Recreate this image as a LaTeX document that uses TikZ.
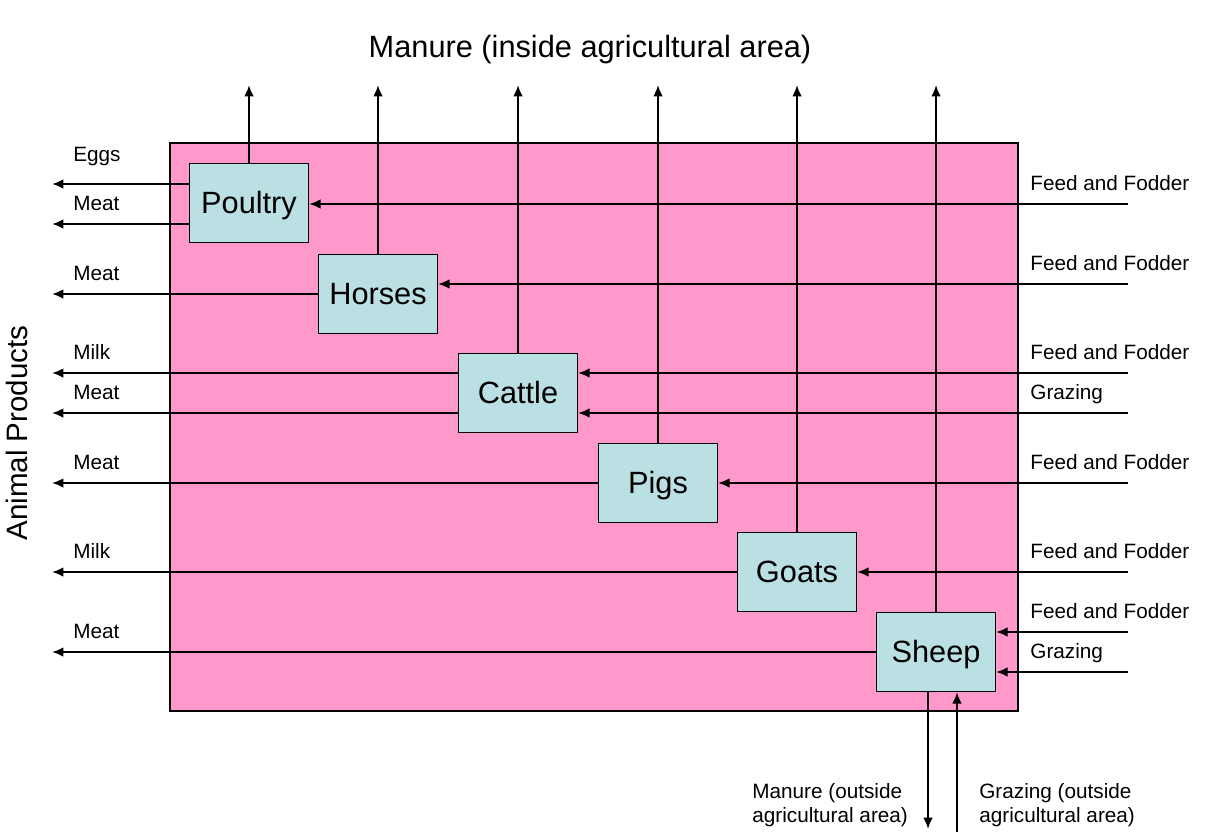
\documentclass[tikz,border=0pt]{standalone}
\usepackage{fontspec}
\setmainfont{Liberation Sans}
\usetikzlibrary{arrows.meta}
\definecolor{pinkbg}{HTML}{FF99CC}
\definecolor{boxfill}{HTML}{BBE0E3}
\begin{document}
\begin{tikzpicture}[x=0.02cm,y=-0.02cm,
  flow/.style={line width=1.15pt,-{Latex[length=6.5pt,width=5.5pt]}},
  animal/.style={draw=black,line width=0.7pt,fill=boxfill,minimum width=2.38cm,minimum height=1.58cm,inner sep=0pt,text height=12.5pt,text depth=0pt,font=\fontsize{17.5}{20}\selectfont},
  small/.style={inner sep=0pt,font=\fontsize{11.8}{14}\selectfont},
  big/.style={inner sep=0pt,font=\fontsize{17.5}{20}\selectfont}]
\useasboundingbox (0,0) rectangle (1212,832);
\fill[white] (0,0) rectangle (1212,832);
\draw[fill=pinkbg,line width=0.7pt] (170,143) rectangle (1018,711);

% animal boxes
\node[animal] (poultry) at (249,203) {Poultry};
\node[animal] (horses) at (378,294) {Horses};
\node[animal] (cattle) at (518,393) {Cattle};
\node[animal] (pigs) at (658,483) {Pigs};
\node[animal] (goats) at (797,572) {Goats};
\node[animal] (sheep) at (936,652) {Sheep};

% manure up
\coordinate (mP) at (249,85);
\coordinate (mH) at (378,85);
\coordinate (mC) at (518,85);
\coordinate (mPi) at (658,85);
\coordinate (mG) at (797,85);
\coordinate (mS) at (936,85);
\draw[flow] (poultry.north) -- (mP);
\draw[flow] (horses.north) -- (mH);
\draw[flow] (cattle.north) -- (mC);
\draw[flow] (pigs.north) -- (mPi);
\draw[flow] (goats.north) -- (mG);
\draw[flow] (sheep.north) -- (mS);

% products out (left)
\coordinate (oPe) at (52,184);
\coordinate (oPm) at (52,224);
\coordinate (oH) at (52,294);
\coordinate (oCm) at (52,373);
\coordinate (oCt) at (52,413);
\coordinate (oPi) at (52,483);
\coordinate (oG) at (52,572);
\coordinate (oS) at (52,652);
\draw[flow] (poultry.west |- oPe) -- (oPe);
\draw[flow] (poultry.west |- oPm) -- (oPm);
\draw[flow] (horses.west |- oH) -- (oH);
\draw[flow] (cattle.west |- oCm) -- (oCm);
\draw[flow] (cattle.west |- oCt) -- (oCt);
\draw[flow] (pigs.west |- oPi) -- (oPi);
\draw[flow] (goats.west |- oG) -- (oG);
\draw[flow] (sheep.west |- oS) -- (oS);

% inputs (right)
\coordinate (iP) at (1128,204);
\coordinate (iH) at (1128,284);
\coordinate (iCf) at (1128,373);
\coordinate (iCg) at (1128,413);
\coordinate (iPi) at (1128,483);
\coordinate (iG) at (1128,572);
\coordinate (iSf) at (1128,632);
\coordinate (iSg) at (1128,672);
\draw[flow] (iP) -- (poultry.east |- iP);
\draw[flow] (iH) -- (horses.east |- iH);
\draw[flow] (iCf) -- (cattle.east |- iCf);
\draw[flow] (iCg) -- (cattle.east |- iCg);
\draw[flow] (iPi) -- (pigs.east |- iPi);
\draw[flow] (iG) -- (goats.east |- iG);
\draw[flow] (iSf) -- (sheep.east |- iSf);
\draw[flow] (iSg) -- (sheep.east |- iSg);

% outside area
\coordinate (outM) at (928,829);
\coordinate (outG) at (957,832);
\draw[flow] (sheep.south -| outM) -- (outM);
\draw[flow] (outG) -- (sheep.south -| outG);

% labels
\node[big,anchor=base] (title) at (590,57) {Manure (inside agricultural area)};
\node[big,rotate=90,font=\fontsize{16.8}{20}\selectfont] (ap) at (17,433) {Animal Products};

\node[small,anchor=base west] (lEggs) at (73,161) {Eggs};
\node[small,anchor=base west] (lPm) at (73,210) {Meat};
\node[small,anchor=base west] (lHm) at (73,280) {Meat};
\node[small,anchor=base west] (lCmilk) at (73,359) {Milk};
\node[small,anchor=base west] (lCmeat) at (73,399) {Meat};
\node[small,anchor=base west] (lPim) at (73,469) {Meat};
\node[small,anchor=base west] (lGm) at (73,558) {Milk};
\node[small,anchor=base west] (lSm) at (73,638) {Meat};

\node[small,anchor=base west] (rP) at (1030,190) {Feed and Fodder};
\node[small,anchor=base west] (rH) at (1030,270) {Feed and Fodder};
\node[small,anchor=base west] (rCf) at (1030,359) {Feed and Fodder};
\node[small,anchor=base west] (rCg) at (1030,399) {Grazing};
\node[small,anchor=base west] (rPi) at (1030,469) {Feed and Fodder};
\node[small,anchor=base west] (rG) at (1030,558) {Feed and Fodder};
\node[small,anchor=base west] (rSf) at (1030,618) {Feed and Fodder};
\node[small,anchor=base west] (rSg) at (1030,658) {Grazing};

\node[small,anchor=west,align=left] (bM) at (752,805) {Manure (outside\\agricultural area)};
\node[small,anchor=west,align=left] (bG) at (979,805) {Grazing (outside\\agricultural area)};
\end{tikzpicture}
\end{document}
